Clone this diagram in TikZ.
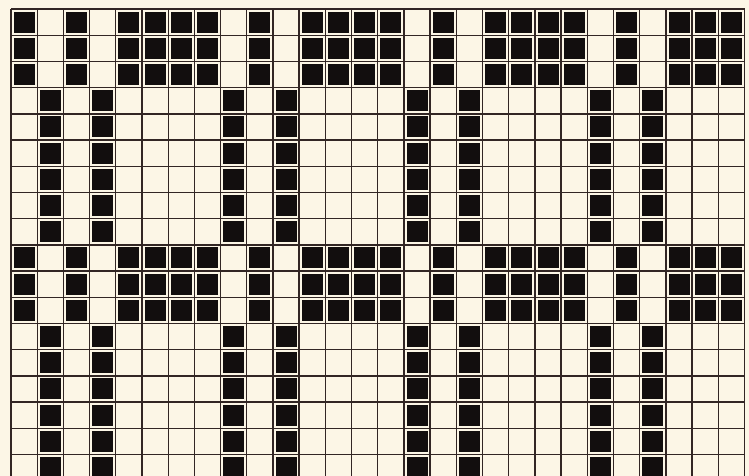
\documentclass[tikz,border=0pt]{standalone}
\usepackage{tikz}
\definecolor{paper}{RGB}{252, 246, 230}
\definecolor{ink}{RGB}{18, 14, 14}
\definecolor{rule}{RGB}{50, 38, 36}

\begin{document}
\begin{tikzpicture}[x=0.5cm, y=-0.5cm,
    cell/.style={fill=ink},
    gridline/.style={draw=rule, line width=0.75pt}
]
    % Paper and frame
    \fill[paper] (-0.42,-0.345) rectangle (28.17,17.82);
    \useasboundingbox (-0.42,-0.345) rectangle (28.17,17.82);
    \clip (-0.42,-0.345) rectangle (28.17,17.82);

    % Block rows
    \foreach \r in {0,1,2,9,10,11}
        \foreach \c in {0,2,4,5,6,7,9,11,12,13,14,16,18,19,20,21,23,25,26,27}
            \fill[cell] (\c+0.1,\r+0.1) rectangle (\c+0.9,\r+0.9);

    % Stripe rows
    \foreach \r in {3,...,8,12,13,14,15,16,17}
        \foreach \c in {1,3,8,10,15,17,22,24}
            \fill[cell] (\c+0.1,\r+0.1) rectangle (\c+0.9,\r+0.9);

    % Grid
    \foreach \c in {0,...,28}
        \draw[gridline] (\c,0) -- (\c,18);
    \foreach \r in {0,...,17}
        \draw[gridline] (0,\r) -- (28,\r);
\end{tikzpicture}
\end{document}
